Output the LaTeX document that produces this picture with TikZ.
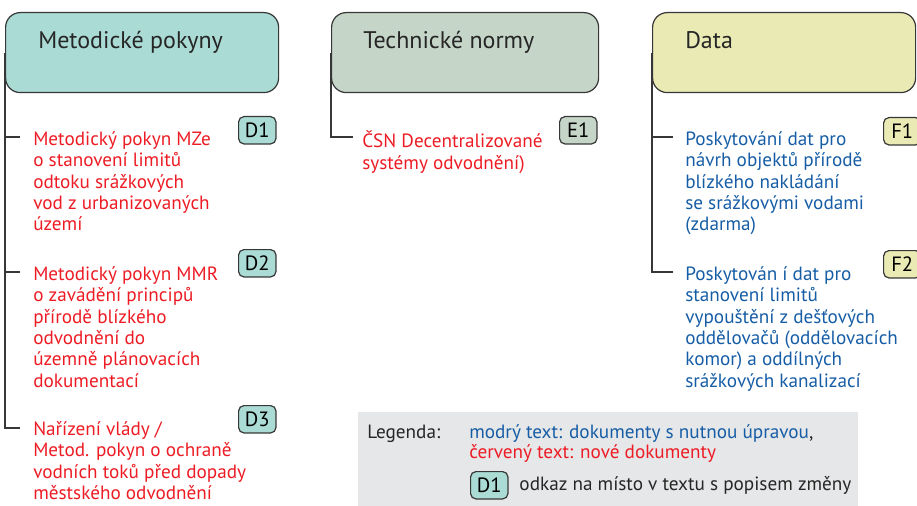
\documentclass[tikz,border=0pt]{standalone}
\usepackage{fontspec}
\setmainfont{PT Sans}
\usetikzlibrary{positioning, backgrounds}

\definecolor{metodfill}{RGB}{170,220,213}
\definecolor{normfill}{RGB}{197,213,200}
\definecolor{datafill}{RGB}{234,234,181}
\definecolor{newred}{RGB}{237,28,36}
\definecolor{fixblue}{RGB}{22,93,166}
\definecolor{legendgray}{RGB}{230,231,232}
\definecolor{edgegray}{RGB}{55,55,55}

\begin{document}
\begin{tikzpicture}[
    x=0.75pt, y=-0.75pt,
    every node/.style={font=\fontsize{14.4}{16.1}\selectfont},
    category/.style={rectangle, rounded corners=11pt, draw=edgegray, line width=0.9pt,
                     anchor=north west, minimum height=60pt, inner sep=0pt},
    title/.style={anchor=base west, inner sep=0pt, text=black!85,
                  font=\fontsize{18}{20}\selectfont},
    item/.style={anchor=north west, inner sep=0pt, align=left},
    tag/.style={rectangle, rounded corners=4pt, draw=edgegray, line width=0.9pt,
                minimum width=28pt, minimum height=20.5pt, inner sep=0pt, anchor=north west,
                font=\fontsize{15.5}{17}\selectfont},
    branch/.style={draw=edgegray, line width=0.9pt},
]
\useasboundingbox (0,0) rectangle (917,506);
\clip (0,0) rectangle (917,506);

%% --- Category boxes ---
\node[category, fill=metodfill, minimum width=204.75pt] (metod) at (5,12) {};
\node[category, fill=normfill, minimum width=200.25pt] (norm) at (331,12) {};
\node[category, fill=datafill, minimum width=197.25pt] (data) at (652,12) {};

\node[title] (metodtitle) at (38,49) {Metodické pokyny};
\node[title] (normtitle) at (363,49) {Technické normy};
\node[title] (datatitle) at (685,49) {Data};

%% --- Items: Metodické pokyny ---
\node[item, text=newred] (d1txt) at (33,131)
    {Metodický pokyn MZe\\o stanovení limitů\\odtoku srážkových\\vod z urbanizovaných\\území};
\node[item, text=newred] (d2txt) at (33,266)
    {Metodický pokyn MMR\\o zavádění principů\\přírodě blízkého\\odvodnění do\\územně plánovacích\\dokumentací};
\node[item, text=newred] (d3txt) at (33,421)
    {Nařízení vlády /\\Metod. pokyn o ochraně\\vodních toků před dopady\\městského odvodnění};

\node[tag, fill=metodfill] (d1) at (238,116) {D1};
\node[tag, fill=metodfill] (d2) at (238,249) {D2};
\node[tag, fill=metodfill] (d3) at (238,405) {D3};

%% --- Items: Technické normy ---
\node[item, text=newred] (e1txt) at (362,131)
    {ČSN Decentralizované\\systémy odvodnění)};
\node[tag, fill=normfill] (e1) at (559,116) {E1};

%% --- Items: Data ---
\node[item, text=fixblue] (f1txt) at (685,131)
    {Poskytování dat pro\\návrh objektů přírodě\\blízkého nakládání\\se srážkovými vodami\\(zdarma)};
\node[item, text=fixblue] (f2txt) at (685,266)
    {Poskytován í dat pro\\stanovení limitů\\vypouštění z dešťových\\oddělovačů (oddělovacích\\komor) a oddílných\\srážkových kanalizací};

\node[tag, fill=datafill] (f1) at (883,117) {F1};
\node[tag, fill=datafill] (f2) at (883,250) {F2};

%% --- Branch ends ---
\coordinate (m1) at (20,137);
\coordinate (m2) at (20,272);
\coordinate (m3) at (20,428);
\coordinate (n1) at (353,137);
\coordinate (p1) at (673,137);
\coordinate (p2) at (673,272);

\begin{scope}[on background layer]
\draw[branch] (metod.west) |- (m3);
\draw[branch] (metod.west |- m1) -- (m1);
\draw[branch] (metod.west |- m2) -- (m2);
\draw[branch] (norm.west) |- (n1);
\draw[branch] (data.west) |- (p2);
\draw[branch] (data.west |- p1) -- (p1);
\end{scope}

%% --- Legend ---
\node[rectangle, fill=legendgray, anchor=north west, minimum width=375pt,
      minimum height=80pt] (legend) at (358,412) {};
\node[anchor=base west, inner sep=0pt, text=black!85] (legtitle) at (367,438) {Legenda:};
\node[anchor=base west, inner sep=0pt, text=fixblue] (legblue) at (469,438)
    {modrý text: dokumenty s nutnou úpravou\textcolor{black!85}{,}};
\node[anchor=base west, inner sep=0pt, text=newred] (legred) at (469,458)
    {červený text: nové dokumenty};
\node[tag, fill=metodfill] (legtag) at (470,471) {D1};
\node[right=8pt of legtag, inner sep=0pt, text=black!85] (legnote)
    {odkaz na místo v textu s popisem změny};

\end{tikzpicture}
\end{document}
